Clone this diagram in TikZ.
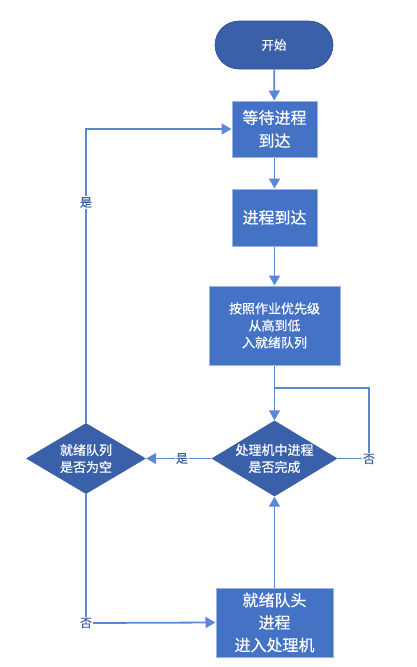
\documentclass[tikz,border=0pt]{standalone}
\usepackage{fontspec}
\setmainfont{Noto Sans CJK SC}[FakeBold=0.5]
\usetikzlibrary{shapes.geometric,arrows.meta}
\definecolor{boxfill}{HTML}{4472C4}
\definecolor{boxedge}{HTML}{9DB4E0}
\definecolor{darkfill}{HTML}{3B60AA}
\definecolor{lineblue}{HTML}{5A88D6}
\definecolor{labcol}{HTML}{3F5F99}
\tikzset{
  procbox/.style={draw=boxedge, line width=1pt, fill=boxfill, text=white, align=center, inner sep=0pt},
  termbox/.style={draw=darkfill!80!black, line width=0.6pt, fill=darkfill, text=white, rounded corners=24pt, inner sep=0pt, minimum width=118pt, minimum height=48pt, font=\fontsize{12.5}{15}\selectfont},
  decbox/.style={diamond, fill=darkfill, text=white, align=center, inner sep=0pt, minimum width=118pt, minimum height=71pt, aspect=1.66, font=\fontsize{13}{17}\selectfont},
  conn/.style={draw=lineblue, line width=1.8pt, -{Triangle[length=10pt,width=11pt]}},
  plain/.style={draw=lineblue, line width=1.8pt},
  lab/.style={fill=white, text=labcol, inner sep=1pt, font=\fontsize{12}{14}\selectfont}
}
\begin{document}
\begin{tikzpicture}[x=1pt,y=-1pt]
\useasboundingbox (0,0) rectangle (417,667);
\node[termbox] (start) at (274,45) {开始};
\node[procbox, minimum width=85pt, minimum height=56pt, font=\fontsize{16}{23}\selectfont] (wait) at (274.5,129) {等待进程\\到达};
\node[procbox, minimum width=85pt, minimum height=57pt, font=\fontsize{16}{23}\selectfont] (arrive) at (274.5,217.5) {进程到达};
\node[procbox, minimum width=131pt, minimum height=79pt, font=\fontsize{13}{17}\selectfont] (queue) at (274.5,325.5) {按照作业优先级\\从高到低\\入就绪队列};
\node[decbox] (done) at (274.5,458.5) {处理机中进程\\是否完成};
\node[decbox, minimum width=120pt] (empty) at (86,458.5) {就绪队列\\是否为空};
\node[procbox, minimum width=117pt, minimum height=69pt, font=\fontsize{16}{22.5}\selectfont] (head) at (274.5,622.5) {就绪队头\\进程\\进入处理机};
\coordinate (merge) at (274.5,388);
\coordinate (rtop) at (369,388);
\coordinate (rbot) at (369,458.5);
\coordinate (ltop) at (86,129);
\coordinate (lbot) at (86,623);

\draw[conn] (start) -- (wait);
\draw[conn] (wait) -- (arrive);
\draw[conn] (arrive) -- (queue);
\draw[conn] (queue) -- (done);
\draw[plain] (done.east) -- (rbot) -- (rtop) -- (merge);
\node[lab] (no1) at (369,459) {否};
\draw[conn] (done.west) -- node[lab, pos=0.45] (yes1) {是} (empty.east);
\draw[conn] (empty.north) -- node[lab, pos=0.75] (yes2) {是} (ltop) -- (wait.west);
\draw[conn] (empty.south) -- (lbot) -- (head.west);
\node[lab] (no2) at (lbot) {否};
\draw[conn] (head) -- (done);
\end{tikzpicture}
\end{document}
